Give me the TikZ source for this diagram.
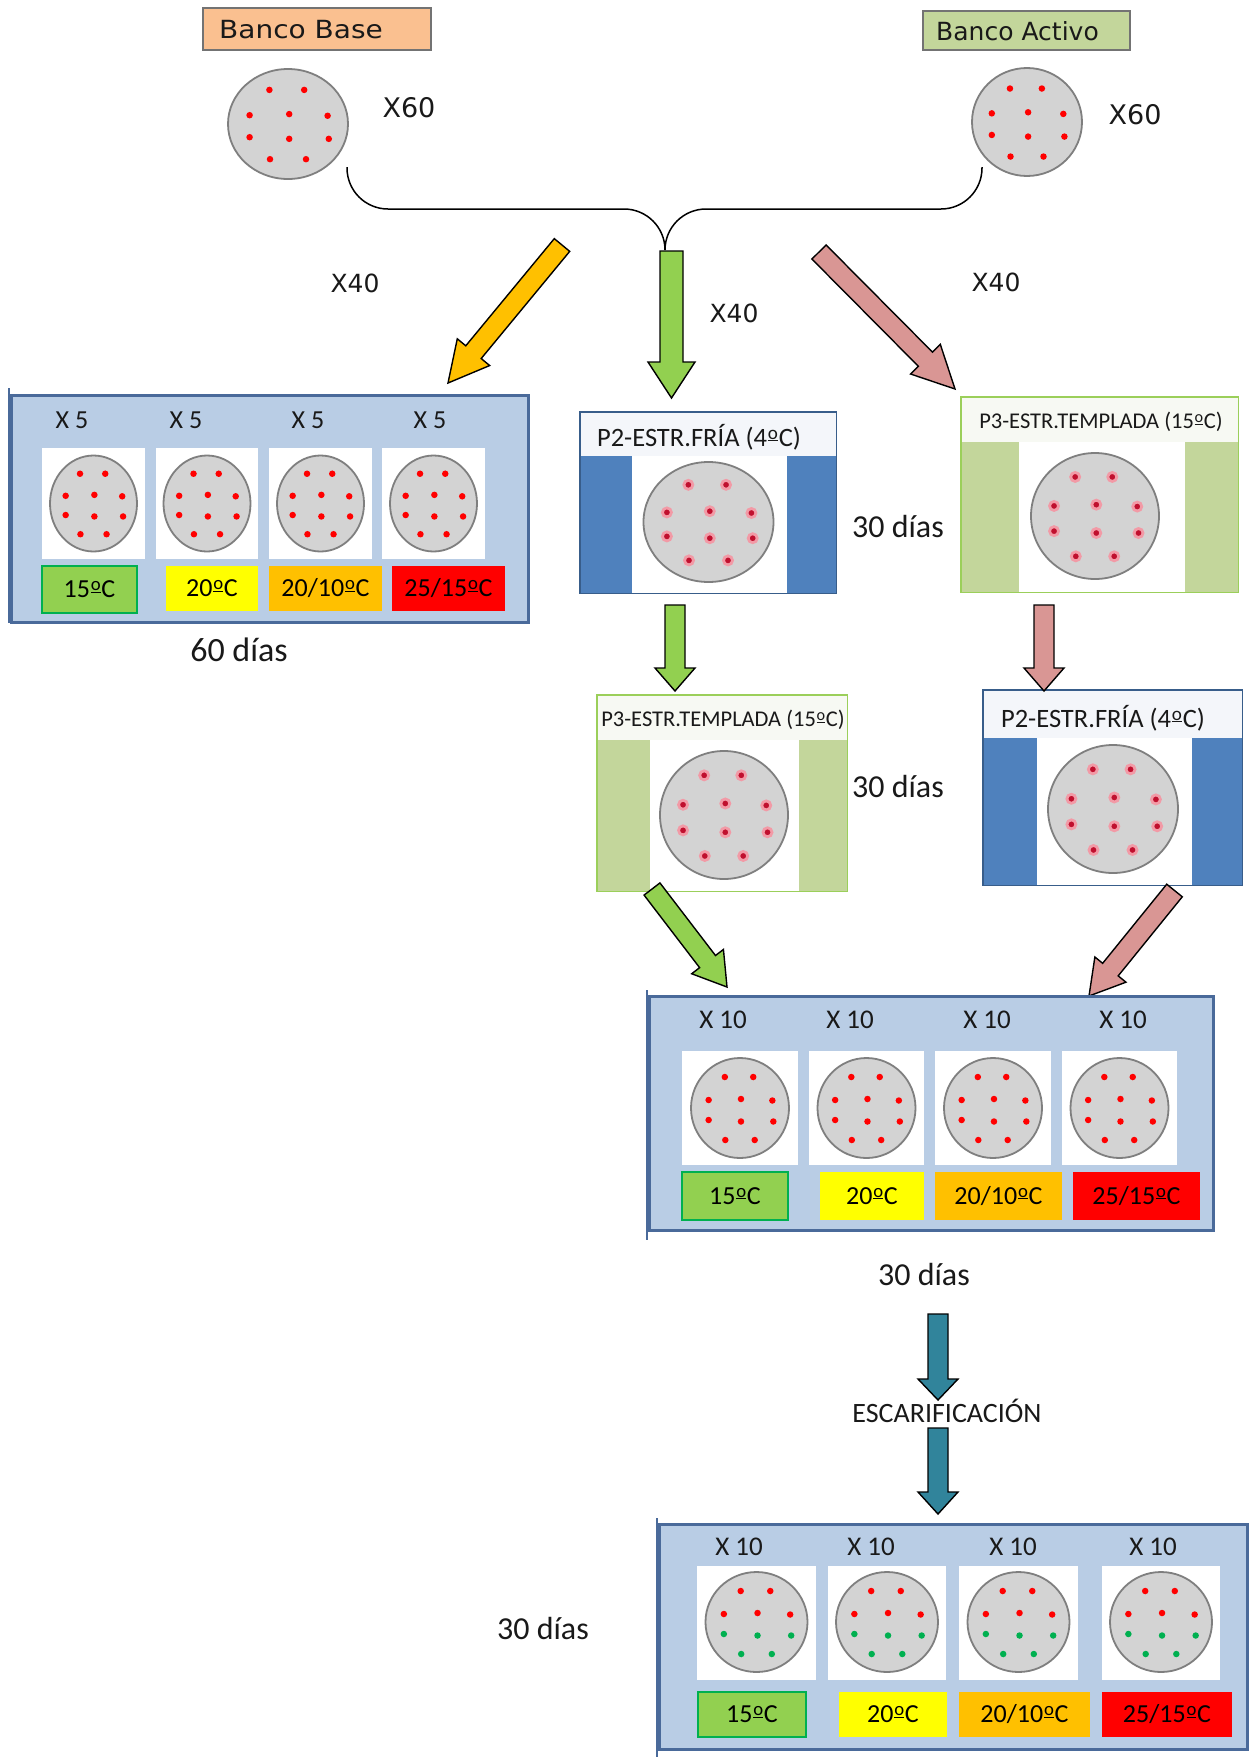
\documentclass[tikz,border=0pt]{standalone}
\usepackage{fontspec}
\usepackage{graphicx}
\setmainfont{Carlito}
\newfontfamily\vfont{DejaVu Sans}
\newfontfamily\vfontw[FakeStretch=1.12]{DejaVu Sans}
\usetikzlibrary{calc,shapes.geometric}
\definecolor{bbase}{HTML}{FAC090}
\definecolor{bact}{HTML}{C3D69B}
\definecolor{panelfill}{HTML}{B9CDE5}
\definecolor{paneldraw}{HTML}{4A6A9A}
\definecolor{dishfill}{HTML}{D3D3D3}
\definecolor{dishdraw}{HTML}{7F7F7F}
\definecolor{dotred}{HTML}{FF0000}
\definecolor{dotgreen}{HTML}{00B050}
\definecolor{hdotred}{HTML}{C0102E}
\definecolor{halo}{HTML}{F29AA6}
\definecolor{pbluehdr}{HTML}{F4F6FA}
\definecolor{pbluebar}{HTML}{4F81BD}
\definecolor{pbluedraw}{HTML}{385D8A}
\definecolor{pgreenhdr}{HTML}{F7F9F3}
\definecolor{pgreenbar}{HTML}{C3D69B}
\definecolor{pgreendraw}{HTML}{9BCF5A}
\definecolor{tgreen}{HTML}{92D050}
\definecolor{tgreendraw}{HTML}{00B050}
\definecolor{tyellow}{HTML}{FFFF00}
\definecolor{torange}{HTML}{FFC000}
\definecolor{tred}{HTML}{FF0000}
\definecolor{ayellow}{HTML}{FFC000}
\definecolor{agreen}{HTML}{92D050}
\definecolor{apink}{HTML}{D99694}
\definecolor{ateal}{HTML}{31849B}

\newcommand{\fsz}[1]{\fontsize{#1}{#1}\selectfont}
% underlined masculine ordinal as printed by the reference
\newcommand{\ordm}{\kern.03em\raisebox{.27em}{\scalebox{.72}{\underline{o}}}\kern.03em}

% block arrow: #1 tail, #2 tip, #3 fill, #4 half shaft, #5 half head, #6 head length
\newcommand{\blkarrow}[6]{%
  \path ($(#2)!#6!(#1)$) coordinate (bah);
  \filldraw[fill=#3, draw=black, line width=1.4pt, line join=miter, miter limit=20]
    ($(#1)!#4!90:(#2)$) -- ($(bah)!#4!90:(#2)$) -- ($(bah)!#5!90:(#2)$) -- (#2)
    -- ($(bah)!#5!-90:(#2)$) -- ($(bah)!#4!-90:(#2)$) -- ($(#1)!#4!-90:(#2)$) -- cycle;
}

% dish: #1 name, #2 x, #3 y, #4 rx, #5 ry, #6 kind (0 red, 1 red/green, 2 halo)
\newcommand{\dish}[6]{%
  \node[dishnode, minimum width=2*#4, minimum height=2*#5] (#1) at (#2,#3) {};
  \begin{scope}[shift={(#1.center)}, xscale=#4, yscale=#5]
    \foreach \px/\py [count=\k] in {-0.31/-0.62, 0.27/-0.62, -0.64/-0.16, 0.02/-0.18, 0.66/-0.15, -0.64/0.24, 0.02/0.27, 0.68/0.27, -0.3/0.64, 0.3/0.64}{
      \ifcase#6
        \node[pdot, fill=dotred] (#1d\k) at (\px,\py) {};
      \or
        \ifnum\k<6 \node[pdot, fill=dotred] (#1d\k) at (\px,\py) {};
        \else \node[pdot, fill=dotgreen] (#1d\k) at (\px,\py) {};\fi
      \or
        \node[hdot] (#1d\k) at (\px,\py) {};
      \fi
    }
  \end{scope}
}

% stratification box: #1 name, #2 x1, #3 y1, #4 x2, #5 y2, #6 header bottom, #7 left bar right, #8 right bar left, #9 kind
\newcommand{\pbox}[9]{%
  \node[anchor=north west, minimum width=#4-#2, minimum height=#5-#3, inner sep=0, fill=white] (#1) at (#2,#3) {};
  \fill[#9hdr] (#2,#3) rectangle (#4,#6);
  \fill[#9bar] (#2,#6) rectangle (#7,#5);
  \fill[#9bar] (#8,#6) rectangle (#4,#5);
  \draw[#9draw, line width=1.6pt] (#1.north west) rectangle (#1.south east);
}

% white square: #1 name, #2 x1, #3 y1, #4 x2, #5 y2
\newcommand{\wsq}[5]{%
  \node[fill=white, inner sep=0, minimum width=#4-#2, minimum height=#5-#3] (#1) at ({(#2+#4)/2},{(#3+#5)/2}) {};
}
% temperature box: #1 name, #2 x1, #3 y1, #4 x2, #5 y2, #6 style, #7 text
\newcommand{\tempbox}[7]{%
  \node[tempb, #6, minimum width=#4-#2, minimum height=#5-#3] (#1) at ({(#2+#4)/2},{(#3+#5)/2}) {#7};
}

\begin{document}
\begin{tikzpicture}[x=1pt,y=-1pt, line join=miter,
  bankbox/.style={draw=black!55, line width=1.2pt, inner sep=0},
  vtext/.style={font={\vfont\fsz{#1}}, inner sep=0, text=black!90},
  ctext/.style={font={\fsz{#1}}, inner sep=0, text=black!90},
  dishnode/.style={ellipse, draw=dishdraw, fill=dishfill, line width=1.8pt, inner sep=0},
  pdot/.style={circle, inner sep=0, minimum size=6.5, draw=none},
  hdot/.style={circle, inner sep=0, minimum size=9, fill=hdotred, draw=halo, line width=2.8pt},
  panel/.style={draw=paneldraw, fill=panelfill, line width=3pt, inner sep=0},
  tempb/.style={inner sep=0, font={\fsz{26}}, text=black},
  tgst/.style={fill=tgreen, draw=tgreendraw, line width=1.5pt},
  tyst/.style={fill=tyellow},
  tost/.style={fill=torange},
  trst/.style={fill=tred},
  conn/.style={draw=black, line width=1.5pt}
]

\fill[white] (0,0) rectangle (1248,1764);
\useasboundingbox (0,0) rectangle (1248,1764);

% ---------- banks ----------
\node[bankbox, fill=bbase, minimum width=228, minimum height=42] (bb) at (317,29) {};
\node[font={\vfontw\fsz{25}}, inner sep=0, text=black!90, anchor=west] (bbt) at (219,30) {Banco Base};
\node[bankbox, fill=bact, minimum width=207, minimum height=39] (ba) at (1026.5,30.5) {};
\node[vtext=25, anchor=west] (bat) at (936,31) {Banco Activo};

\dish{bbd}{288}{124}{60}{55}{0}
\dish{bad}{1027}{122}{55}{54}{0}
\node[vtext=27] (x60a) at (409,108) {X60};
\node[vtext=27] (x60b) at (1135,115) {X60};

% ---------- joining curve ----------
\coordinate (cl) at (347,167);
\coordinate (cr) at (982,167);
\coordinate (cj) at (665,250);
\draw[conn, rounded corners=41] (cl) -- (cl |- 0,209) -- (cj |- 0,209) -- (cj);
\draw[conn, rounded corners=41] (cr) -- (cr |- 0,209) -- (cj |- 0,209) -- (cj);

\node[vtext=25] (x40a) at (355,283) {X40};
\node[vtext=25] (x40b) at (734,313) {X40};
\node[vtext=25] (x40c) at (996,282) {X40};

% ---------- first arrows ----------
\coordinate (ya-t) at (562,245); \coordinate (ya-h) at (448,383);
\blkarrow{ya-t}{ya-h}{ayellow}{10pt}{21pt}{40pt}
\coordinate (g1-t) at (671.5,251); \coordinate (g1-h) at (671.5,398);
\blkarrow{g1-t}{g1-h}{agreen}{11.5pt}{23.5pt}{36pt}
\coordinate (p1-t) at (819,252); \coordinate (p1-h) at (955,389);
\blkarrow{p1-t}{p1-h}{apink}{10pt}{21pt}{42pt}

% ---------- panel 1 ----------
\node[panel, anchor=north west, minimum width=517, minimum height=227] (pan1) at (10,394) {};
\draw[paneldraw, line width=2pt] (9,388) -- (9,623);
\node[ctext=26] (p1x1) at (72,420) {X 5};
\node[ctext=26] (p1x2) at (186,420) {X 5};
\node[ctext=26] (p1x3) at (308,420) {X 5};
\node[ctext=26] (p1x4) at (430,420) {X 5};
\wsq{p1s1}{42}{448}{145}{559}
\wsq{p1s2}{156}{448}{258}{559}
\wsq{p1s3}{269}{448}{372}{559}
\wsq{p1s4}{382}{448}{485}{559}
\dish{p1d1}{93.5}{503.5}{43.5}{48}{0}
\dish{p1d2}{207}{503.5}{43.5}{48}{0}
\dish{p1d3}{320.5}{503.5}{43.5}{48}{0}
\dish{p1d4}{433.5}{503.5}{43.5}{48}{0}
\tempbox{p1t1}{42}{566}{137}{613}{tgst}{15\ordm C}
\tempbox{p1t2}{166}{566}{258}{611}{tyst}{20\ordm C}
\tempbox{p1t3}{269}{566}{382}{611}{tost}{20/10\ordm C}
\tempbox{p1t4}{392}{566}{505}{611}{trst}{25/15\ordm C}
\node[ctext=34] (d60) at (239,650) {60 días};

% ---------- stratification boxes ----------
\pbox{s2a}{580}{412}{836}{593}{456}{632}{787}{pblue}
\dish{s2ad}{708.5}{522}{65}{60}{2}
\node[ctext=26.5] (s2at) at (699,437) {P2-ESTR.FRÍA (4\ordm C)};

\pbox{s3a}{961}{397}{1238}{592}{442}{1019}{1185}{pgreen}
\dish{s3ad}{1095}{516}{64}{63}{2}
\node[ctext=22.5] (s3at) at (1101,422) {P3-ESTR.TEMPLADA (15\ordm C)};

\pbox{s3b}{597}{695}{847}{891}{740}{650}{799}{pgreen}
\dish{s3bd}{724}{815}{64}{64}{2}
\node[ctext=22.5] (s3bt) at (723,720) {P3-ESTR.TEMPLADA (15\ordm C)};

\pbox{s2b}{983}{690}{1242}{885}{738}{1037}{1192}{pblue}
\dish{s2bd}{1113}{809}{65}{64}{2}
\node[ctext=26.5] (s2bt) at (1103,718) {P2-ESTR.FRÍA (4\ordm C)};

\node[ctext=32] (d30a) at (898,527) {30 días};
\node[ctext=32] (d30b) at (898,786) {30 días};

\coordinate (g2-t) at (675,605); \coordinate (g2-h) at (675,691);
\blkarrow{g2-t}{g2-h}{agreen}{10pt}{20pt}{23pt}
\coordinate (p2-t) at (1044,605); \coordinate (p2-h) at (1044,691);
\blkarrow{p2-t}{p2-h}{apink}{10pt}{20pt}{23pt}
\coordinate (g3-t) at (652,889); \coordinate (g3-h) at (727,987);
\blkarrow{g3-t}{g3-h}{agreen}{10pt}{20pt}{32pt}
\coordinate (p3-t) at (1174.5,890.5); \coordinate (p3-h) at (1089,996);
\blkarrow{p3-t}{p3-h}{apink}{10pt}{20pt}{34pt}

% ---------- panel 2 ----------
\node[panel, anchor=north west, minimum width=564, minimum height=234] (pan2) at (648,995) {};
\draw[paneldraw, line width=2pt] (647,990) -- (647,1240);
\node[ctext=27] (p2x1) at (723,1020) {X 10};
\node[ctext=27] (p2x2) at (850,1020) {X 10};
\node[ctext=27] (p2x3) at (987,1020) {X 10};
\node[ctext=27] (p2x4) at (1123,1020) {X 10};
\wsq{p2s1}{682}{1051}{798}{1165}
\wsq{p2s2}{809}{1051}{924}{1165}
\wsq{p2s3}{935}{1051}{1051}{1165}
\wsq{p2s4}{1062}{1051}{1177}{1165}
\dish{p2d1}{740}{1108}{49}{50}{0}
\dish{p2d2}{866.5}{1108}{49}{50}{0}
\dish{p2d3}{993}{1108}{49}{50}{0}
\dish{p2d4}{1119.5}{1108}{49}{50}{0}
\tempbox{p2t1}{682}{1172}{788}{1220}{tgst}{15\ordm C}
\tempbox{p2t2}{820}{1172}{924}{1220}{tyst}{20\ordm C}
\tempbox{p2t3}{935}{1172}{1062}{1220}{tost}{20/10\ordm C}
\tempbox{p2t4}{1073}{1172}{1200}{1220}{trst}{25/15\ordm C}
\node[ctext=32] (d30c) at (924,1274) {30 días};

% ---------- scarification ----------
\coordinate (t1-t) at (938,1314); \coordinate (t1-h) at (938,1400);
\blkarrow{t1-t}{t1-h}{ateal}{10pt}{20pt}{21pt}
\node[ctext=28] (esc) at (947,1411) {ESCARIFICACIÓN};
\coordinate (t2-t) at (938,1428); \coordinate (t2-h) at (938,1514);
\blkarrow{t2-t}{t2-h}{ateal}{10pt}{20pt}{22pt}

% ---------- panel 3 ----------
\node[panel, anchor=north west, minimum width=588, minimum height=225] (pan3) at (658,1523) {};
\draw[paneldraw, line width=2pt] (657,1518) -- (657,1757);
\node[ctext=27] (p3x1) at (739,1547) {X 10};
\node[ctext=27] (p3x2) at (871,1547) {X 10};
\node[ctext=27] (p3x3) at (1013,1547) {X 10};
\node[ctext=27] (p3x4) at (1153,1547) {X 10};
\wsq{p3s1}{697}{1566}{816}{1680}
\wsq{p3s2}{828}{1566}{946}{1680}
\wsq{p3s3}{959}{1566}{1078}{1680}
\wsq{p3s4}{1102}{1566}{1220}{1680}
\dish{p3d1}{756.5}{1622}{51}{50}{1}
\dish{p3d2}{887}{1622}{51}{50}{1}
\dish{p3d3}{1018.5}{1622}{51}{50}{1}
\dish{p3d4}{1161}{1622}{51}{50}{1}
\tempbox{p3t1}{698}{1692}{806}{1737}{tgst}{15\ordm C}
\tempbox{p3t2}{839}{1692}{947}{1737}{tyst}{20\ordm C}
\tempbox{p3t3}{959}{1692}{1090}{1737}{tost}{20/10\ordm C}
\tempbox{p3t4}{1102}{1692}{1232}{1737}{trst}{25/15\ordm C}
\node[ctext=32] (d30d) at (543,1628) {30 días};

\end{tikzpicture}
\end{document}
